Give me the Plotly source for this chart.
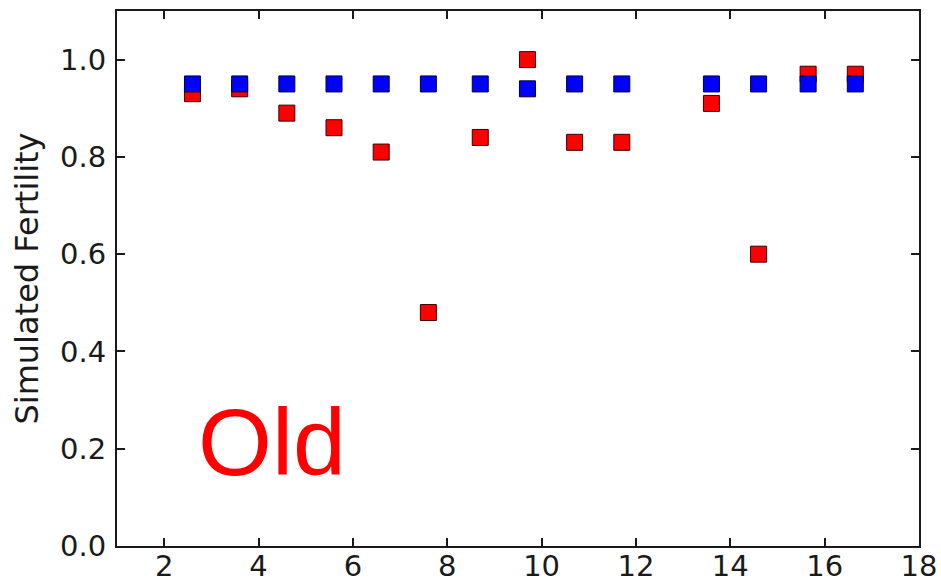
import plotly.graph_objects as go

# Simulated fertility per position: two series
x_red = [2.6, 3.6, 4.6, 5.6, 6.6, 7.6, 8.7, 9.7, 10.7, 11.7, 13.6, 14.6, 15.65, 16.65]
y_red = [0.93, 0.94, 0.89, 0.86, 0.81, 0.48, 0.84, 1.00, 0.83, 0.83, 0.91, 0.60, 0.97, 0.97]

x_blue = [2.6, 3.6, 4.6, 5.6, 6.6, 7.6, 8.7, 9.7, 10.7, 11.7, 13.6, 14.6, 15.65, 16.65]
y_blue = [0.95, 0.95, 0.95, 0.95, 0.95, 0.95, 0.95, 0.94, 0.95, 0.95, 0.95, 0.95, 0.95, 0.95]

x_ticks = [2, 4, 6, 8, 10, 12, 14, 16, 18]
y_ticks = [0.0, 0.2, 0.4, 0.6, 0.8, 1.0]

fig = go.Figure()
fig.add_trace(go.Scatter(
    x=x_red, y=y_red, mode="markers",
    marker=dict(symbol="square", size=16, color="#ff0000",
                line=dict(color="#3a0000", width=1)),
    showlegend=False,
))
fig.add_trace(go.Scatter(
    x=x_blue, y=y_blue, mode="markers",
    marker=dict(symbol="square", size=16, color="#0000ff",
                line=dict(color="#00003a", width=1)),
    showlegend=False,
))

fig.add_annotation(
    x=2.67, y=0.10, xref="x", yref="y", text="Old", showarrow=False,
    xanchor="left", yanchor="bottom",
    font=dict(family="Liberation Sans, Arial", size=95, color="#ff0000"),
)

axis_common = dict(
    showline=True, linecolor="#1a1a1a", linewidth=2, mirror="allticks",
    ticks="inside", ticklen=8, tickwidth=1.5, tickcolor="#1a1a1a",
    showgrid=False, zeroline=False, automargin=False,
    tickfont=dict(family="DejaVu Sans", size=29, color="#1a1a1a"),
)

fig.update_xaxes(range=[1, 18], tickvals=x_ticks,
                 ticktext=[str(v) for v in x_ticks],
                 ticklabelstandoff=-7, **axis_common)
fig.update_yaxes(range=[0, 1.1], tickvals=y_ticks,
                 ticktext=[f"{v:.1f}" for v in y_ticks],
                 ticklabelstandoff=3,
                 title=dict(text="Simulated Fertility", standoff=12,
                            font=dict(family="DejaVu Sans", size=32, color="#1a1a1a")),
                 **axis_common)

fig.update_layout(
    width=941, height=584,
    margin=dict(l=117, r=22, t=11, b=38),
    paper_bgcolor="white", plot_bgcolor="white",
)

fig.write_html("out.html")
